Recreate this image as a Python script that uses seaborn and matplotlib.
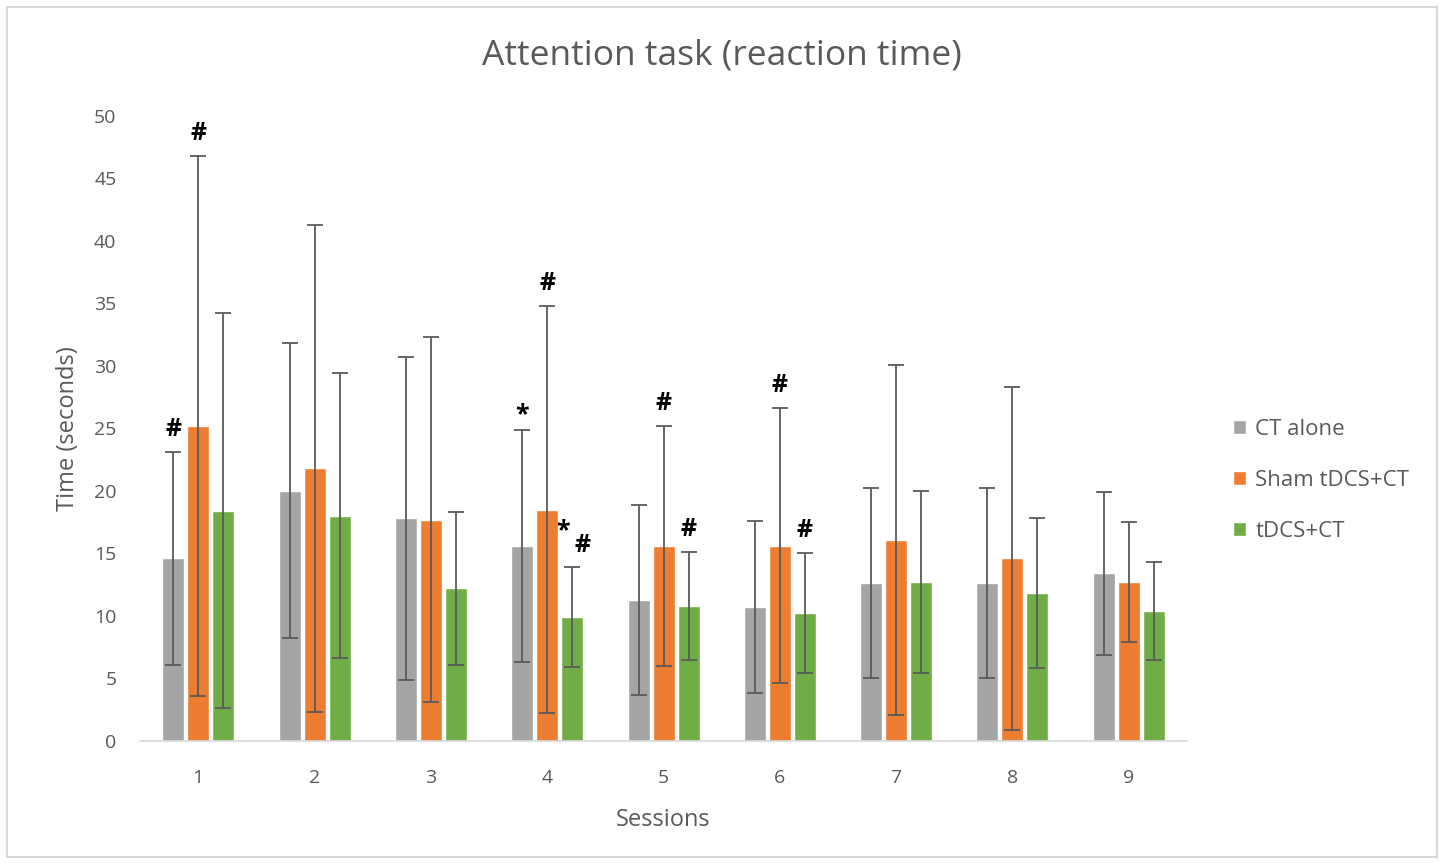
import numpy as np
import pandas as pd
import seaborn as sns
import matplotlib.pyplot as plt
from matplotlib.patches import Rectangle

# Mean reaction time (s) and SD per session for each group
sessions = ["1", "2", "3", "4", "5", "6", "7", "8", "9"]
groups = ["CT alone", "Sham tDCS+CT", "tDCS+CT"]

ct_mean = [14.6, 20.0, 17.8, 15.6, 11.3, 10.7, 12.6, 12.6, 13.4]
ct_sd = [8.5, 11.8, 12.9, 9.3, 7.6, 6.9, 7.6, 7.6, 6.5]
sham_mean = [25.2, 21.8, 17.7, 18.5, 15.6, 15.6, 16.1, 14.6, 12.7]
sham_sd = [21.6, 19.5, 14.6, 16.3, 9.6, 11.0, 14.0, 13.7, 4.8]
tdcs_mean = [18.4, 18.0, 12.2, 9.9, 10.8, 10.2, 12.7, 11.8, 10.4]
tdcs_sd = [15.8, 11.4, 6.1, 4.0, 4.3, 4.8, 7.3, 6.0, 3.9]

# Significance marks: (session index, group index, text)
marks = [
    (0, 0, "#"), (0, 1, "#"),
    (3, 0, "*"), (3, 1, "#"), (3, 2, "* #"),
    (4, 1, "#"), (4, 2, "#"),
    (5, 1, "#"), (5, 2, "#"),
]

colors = ["#A5A5A5", "#ED7D31", "#70AD47"]
text_color = "#595959"

means = [ct_mean, sham_mean, tdcs_mean]
sds = [ct_sd, sham_sd, tdcs_sd]

df = pd.DataFrame({
    "Session": np.tile(sessions, len(groups)),
    "Group": np.repeat(groups, len(sessions)),
    "Time": np.concatenate(means),
})

sns.set_style("white")
plt.rcParams["font.family"] = ["Open Sans", "DejaVu Sans"]

fig = plt.figure(figsize=(14.44, 8.63), dpi=100)
ax = fig.add_axes([0.097, 0.1414, 0.725, 0.7242])

total_w = 0.645
sns.barplot(data=df, x="Session", y="Time", hue="Group", order=sessions,
            hue_order=groups, palette=colors, width=total_w, gap=0.12,
            errorbar=None, saturation=1, ax=ax, legend=True)

# Error bars (mean ± SD) at the centre of each bar
n = len(groups)
step = total_w / n
x = np.arange(len(sessions))
for gi in range(n):
    xs = x - total_w / 2 + step * (gi + 0.5)
    ax.errorbar(xs, means[gi], yerr=sds[gi], fmt="none", ecolor="#5a5a5a",
                elinewidth=1.3, capsize=6, capthick=1.3, zorder=5)

# Significance symbols above the error bars
mark_kw = dict(ha="center", va="bottom", fontsize=18, fontweight="bold",
               color="black")
for si, gi, txt in marks:
    xc = x[si] - total_w / 2 + step * (gi + 0.5)
    top = means[gi][si] + sds[gi][si]
    if txt == "* #":
        ax.text(xc - 0.08, top + 1.9, "*", **mark_kw)
        ax.text(xc + 0.09, top + 0.7, "#", **mark_kw)
    elif txt == "*":
        ax.text(xc, top + 0.2, txt, **mark_kw)
    else:
        ax.text(xc, top + 0.8, txt, **mark_kw)

ax.set_xlim(-0.5, len(sessions) - 0.5)
ax.set_ylim(0, 50)
ax.set_yticks(np.arange(0, 51, 5))
ax.tick_params(axis="both", length=0, labelsize=14, colors=text_color)
ax.tick_params(axis="y", pad=17)
ax.tick_params(axis="x", pad=20)

for side in ["top", "right", "left"]:
    ax.spines[side].set_visible(False)
ax.spines["bottom"].set_color("#D9D9D9")
ax.spines["bottom"].set_linewidth(1.2)

ax.set_xlabel("Sessions", fontsize=17, color=text_color, labelpad=15)
ax.set_ylabel("Time (seconds)", fontsize=17, color=text_color, labelpad=10)
fig.text(0.5, 1 - 55 / 863, "Attention task (reaction time)", fontsize=25.5,
         color=text_color, ha="center", va="center")

leg = ax.legend(loc="center left", bbox_to_anchor=(1.025, 0.417), frameon=False,
                fontsize=16, handlelength=0.6, handleheight=0.6,
                handletextpad=0.4, labelspacing=1.35)
for t in leg.get_texts():
    t.set_color(text_color)

# Chart frame
fig.patches.append(Rectangle((0.005, 0.007), 0.99, 0.985, transform=fig.transFigure,
                             fill=False, edgecolor="#D9D9D9", linewidth=1.5))

fig.savefig("out.png", dpi=100)
